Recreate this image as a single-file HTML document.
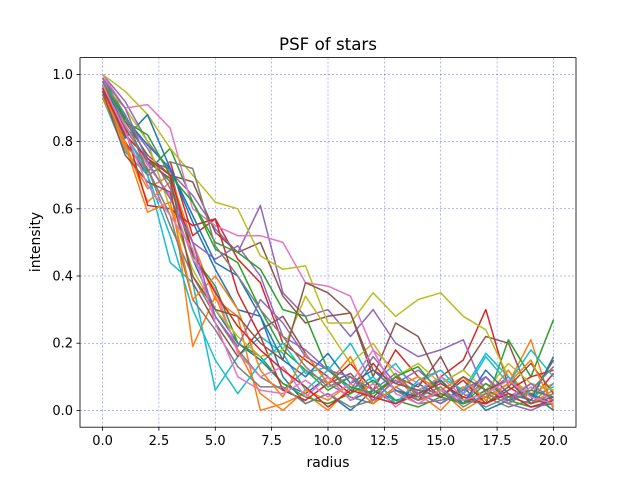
<!DOCTYPE html>
<html><head><meta charset="utf-8"><style>
body{margin:0;background:#fff;font-family:"Liberation Sans","DejaVu Sans",sans-serif}
svg text{font-family:"DejaVu Sans","Liberation Sans",sans-serif;fill:#000}
</style></head><body>
<svg id="chart" width="640" height="480">
<rect width="640" height="480" fill="#fff"/>
<g id="grid"></g>
<g id="lines"></g>
<rect x="80" y="57.6" width="496" height="369.6" fill="none" stroke="#000" stroke-width="0.8"/>
<g id="ticks"></g>
<text x="328" y="50" font-size="16.7" text-anchor="middle">PSF of stars</text>
<text x="328" y="467" font-size="13.9" text-anchor="middle">radius</text>
<text x="0" y="0" font-size="13.9" text-anchor="middle" transform="translate(40,242) rotate(-90)">intensity</text>
</svg>
<script>
const radius=[0,1,2,3,4,5,6,7,8,9,10,11,12,13,14,15,16,17,18,19,20];
const xTicks=[0,2.5,5,7.5,10,12.5,15,17.5,20];
const xTickLabels=["0.0","2.5","5.0","7.5","10.0","12.5","15.0","17.5","20.0"];
const yTicks=[0,0.2,0.4,0.6,0.8,1.0];
const yTickLabels=["0.0","0.2","0.4","0.6","0.8","1.0"];
const s1=[0.97,0.85,0.74,0.72,0.45,0.30,0.20,0.15,0.08,0.05,0.10,0.03,0.06,0.02,0.08,0.04,0.02,0.06,0.03,0.05,0.02];
const s2=[0.95,0.78,0.66,0.70,0.50,0.33,0.28,0.00,0.02,0.05,0.00,0.07,0.04,0.10,0.03,0.06,0.00,0.04,0.08,0.21,0.00];
const s3=[0.99,0.88,0.71,0.78,0.62,0.48,0.44,0.30,0.18,0.12,0.06,0.10,0.04,0.02,0.06,0.09,0.03,0.02,0.21,0.10,0.27];
const s4=[0.96,0.80,0.70,0.74,0.52,0.57,0.45,0.38,0.20,0.15,0.10,0.05,0.14,0.06,0.03,0.10,0.15,0.30,0.07,0.03,0.11];
const s5=[1.0,0.92,0.80,0.71,0.64,0.54,0.47,0.61,0.35,0.28,0.30,0.22,0.30,0.20,0.16,0.18,0.21,0.05,0.10,0.02,0.05];
const s6=[0.98,0.86,0.76,0.70,0.68,0.53,0.47,0.50,0.34,0.26,0.28,0.29,0.10,0.26,0.22,0.08,0.12,0.22,0.20,0.04,0.15];
const s7=[1.0,0.90,0.91,0.84,0.60,0.55,0.52,0.52,0.50,0.38,0.37,0.34,0.18,0.12,0.08,0.12,0.05,0.10,0.04,0.08,0.06];
const s8=[0.94,0.82,0.72,0.55,0.40,0.28,0.18,0.10,0.06,0.12,0.08,0.04,0.02,0.07,0.03,0.05,0.02,0.04,0.01,0.03,0.02];
const s9=[1.0,0.95,0.88,0.78,0.70,0.62,0.60,0.46,0.42,0.43,0.26,0.26,0.35,0.28,0.33,0.35,0.28,0.24,0.10,0.05,0.08];
const s10=[0.93,0.77,0.70,0.44,0.38,0.06,0.16,0.22,0.17,0.06,0.12,0.20,0.08,0.14,0.05,0.10,0.06,0.17,0.10,0.04,0.07];
const s11=[0.97,0.81,0.88,0.72,0.56,0.42,0.30,0.28,0.10,0.02,0.05,0.00,0.06,0.03,0.05,0.02,0.07,0.00,0.03,0.05,0.00];
const s12=[0.95,0.80,0.62,0.68,0.19,0.34,0.18,0.05,0.00,0.06,0.03,0.08,0.02,0.10,0.05,0.00,0.07,0.04,0.12,0.02,0.06];
const s13=[0.98,0.88,0.75,0.68,0.46,0.37,0.20,0.16,0.08,0.04,0.02,0.05,0.09,0.03,0.01,0.04,0.02,0.06,0.03,0.01,0.02];
const s14=[0.96,0.84,0.61,0.60,0.55,0.57,0.35,0.22,0.06,0.03,0.08,0.14,0.06,0.18,0.10,0.04,0.09,0.02,0.06,0.10,0.12];
const s15=[0.97,0.87,0.78,0.66,0.50,0.45,0.49,0.40,0.22,0.18,0.12,0.06,0.16,0.08,0.12,0.06,0.02,0.10,0.02,0.00,0.03];
const s16=[0.95,0.84,0.74,0.69,0.38,0.26,0.16,0.24,0.28,0.17,0.08,0.11,0.04,0.10,0.07,0.16,0.03,0.02,0.07,0.14,0.05];
const s17=[0.99,0.85,0.73,0.64,0.45,0.36,0.17,0.10,0.13,0.04,0.10,0.03,0.08,0.01,0.06,0.10,0.04,0.08,0.02,0.07,0.03];
const s18=[0.94,0.79,0.72,0.58,0.33,0.24,0.13,0.07,0.07,0.02,0.05,0.01,0.03,0.06,0.02,0.03,0.05,0.01,0.04,0.02,0.08];
const s19=[0.97,0.90,0.80,0.60,0.42,0.30,0.22,0.16,0.18,0.34,0.24,0.14,0.20,0.10,0.14,0.08,0.12,0.06,0.14,0.08,0.06];
const s20=[0.96,0.83,0.70,0.52,0.30,0.15,0.05,0.14,0.20,0.11,0.13,0.06,0.10,0.02,0.09,0.12,0.05,0.16,0.08,0.18,0.10];
const s21=[0.98,0.87,0.79,0.72,0.58,0.44,0.40,0.28,0.15,0.10,0.17,0.08,0.12,0.06,0.04,0.09,0.02,0.12,0.05,0.03,0.16];
const s22=[0.93,0.79,0.59,0.62,0.33,0.40,0.30,0.12,0.04,0.17,0.08,0.16,0.02,0.07,0.10,0.06,0.10,0.03,0.08,0.15,0.01];
const s23=[0.98,0.86,0.82,0.70,0.62,0.50,0.47,0.42,0.30,0.28,0.12,0.07,0.05,0.10,0.13,0.05,0.02,0.08,0.04,0.06,0.04];
const s24=[0.96,0.82,0.75,0.70,0.47,0.35,0.25,0.18,0.12,0.07,0.01,0.06,0.04,0.02,0.05,0.08,0.04,0.02,0.05,0.01,0.03];
const s25=[0.99,0.90,0.74,0.63,0.50,0.28,0.19,0.33,0.26,0.16,0.12,0.10,0.03,0.09,0.05,0.02,0.06,0.10,0.03,0.08,0.03];
const s26=[0.95,0.76,0.68,0.65,0.40,0.30,0.28,0.20,0.15,0.38,0.35,0.29,0.12,0.08,0.06,0.04,0.10,0.06,0.09,0.02,0.04];
const s27=[0.97,0.83,0.67,0.58,0.48,0.26,0.10,0.06,0.05,0.09,0.04,0.08,0.18,0.05,0.02,0.06,0.03,0.05,0.09,0.04,0.02];
const s28=[0.98,0.88,0.70,0.74,0.72,0.49,0.40,0.30,0.22,0.13,0.07,0.10,0.06,0.11,0.04,0.07,0.01,0.05,0.02,0.06,0.13];
const series=[s1,s2,s3,s4,s5,s6,s7,s8,s9,s10,s11,s12,s13,s14,s15,s16,s17,s18,s19,s20,s21,s22,s23,s24,s25,s26,s27,s28];
const colors=["#1f77b4","#ff7f0e","#2ca02c","#d62728","#9467bd","#8c564b","#e377c2","#7f7f7f","#bcbd22","#17becf"];
const X0=80,X1=576,Y0=427.2,Y1=57.6,xmin=-1,xmax=21,ymin=-0.05,ymax=1.05;
const xs=v=>X0+(v-xmin)/(xmax-xmin)*(X1-X0);
const ys=v=>Y0-(v-ymin)/(ymax-ymin)*(Y0-Y1);
const NS="http://www.w3.org/2000/svg";
const grid=document.getElementById('grid'),tk=document.getElementById('ticks'),ln=document.getElementById('lines');
function mk(tag,a,p){const e=document.createElementNS(NS,tag);for(const k in a)e.setAttribute(k,a[k]);p.appendChild(e);return e;}
xTicks.forEach((t,i)=>{const x=xs(t);
 const g=mk('line',{x1:x,x2:x,y1:Y1,y2:Y0,stroke:'#0000ff','stroke-opacity':0.6,'stroke-width':0.5,'stroke-dasharray':'2,2'},grid);
 
 
 const l=mk('line',{x1:x,x2:x,y1:Y0,y2:Y0+3.5,stroke:'#000','stroke-width':0.8},tk);
 
 
 const tx=mk('text',{x:x,y:Y0+18,'font-size':13,'text-anchor':'middle'},tk);tx.textContent=xTickLabels[i];
 
 
});
yTicks.forEach((t,i)=>{const y=ys(t);
 const g=mk('line',{x1:X0,x2:X1,y1:y,y2:y,stroke:'#0000ff','stroke-opacity':0.6,'stroke-width':0.5,'stroke-dasharray':'2,2'},grid);
 
 
 const l=mk('line',{x1:X0-3.5,x2:X0,y1:y,y2:y,stroke:'#000','stroke-width':0.8},tk);
 
 
 const tx=mk('text',{x:X0-7,y:y+4.5,'font-size':13,'text-anchor':'end'},tk);tx.textContent=yTickLabels[i];
 
 
});
series.forEach((s,i)=>{
 const pts=s.map((v,j)=>xs(radius[j]).toFixed(1)+','+ys(v).toFixed(1)).join(' ');
 const p=mk('polyline',{points:pts,fill:'none',stroke:colors[i%10],'stroke-width':1.5,'stroke-linejoin':'round'},ln);
 
 
});
</script>
</body></html>
